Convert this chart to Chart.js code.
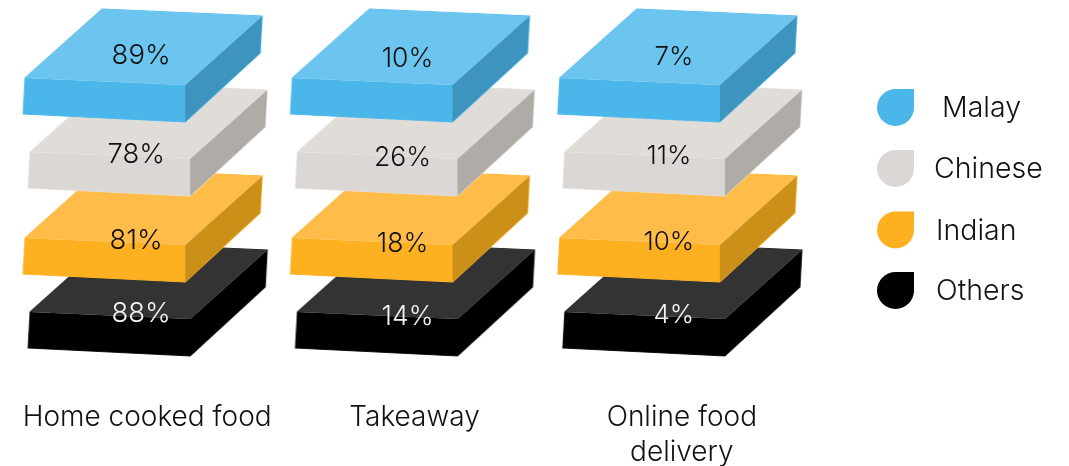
<!DOCTYPE html>
<html>
<head>
<meta charset="utf-8">
<title>Food sources by ethnic group</title>
<script src="https://cdn.jsdelivr.net/npm/chart.js@4"></script>
<style>
  html, body { margin: 0; padding: 0; background: #fff; }
  canvas { display: block; }
</style>
</head>
<body>
<canvas id="chart" width="1069" height="466"></canvas>
<script>
// Survey shares, one array per group, in category order
const categories = ['Home cooked food', 'Takeaway', ['Online food', 'delivery']];
const groups = ['Malay', 'Chinese', 'Indian', 'Others'];
const malay = [89, 10, 7];
const chinese = [78, 26, 11];
const indian = [81, 18, 10];
const others = [88, 14, 4];

const FONT = 'Inter, Lato, sans-serif';

// Look of each group's slab: face colours, edge colour, nudge of the slab and of its label
const looks = [
  { top: '#6cc5ef', front: '#4bb6e9', side: '#3c94bf', edge: '#58bcec', text: '#111111', ax: -121, ay: 13, lx: -5, ly: -9.5 },
  { top: '#e0ddd9', front: '#dbd7d4', side: '#afaba6', edge: '#e8e6e3', text: '#111111', ax: -116, ay: 9, lx: -10, ly: 11.5 },
  { top: '#ffbc49', front: '#feb120', side: '#cc9019', edge: '#ffb733', text: '#111111', ax: -121, ay: 17, lx: -10, ly: 19.5 },
  { top: '#333333', front: '#000000', side: '#000000', edge: '#222222', text: '#f4f4f4', ax: -116, ay: 13, lx: -5, ly: 14.5 }
];
// Label size and vertical shift per category column
const columnText = [
  { size: 27.5, dy: 0, dx: 0 },
  { size: 26.5, dy: 4, dx: -1 },
  { size: 26, dy: 2, dx: -2 }
];
// Legend rows: swatch centre y and label x
const legendRows = [
  { y: 107.5, textX: 942 },
  { y: 168.5, textX: 934 },
  { y: 230, textX: 936 },
  { y: 290.5, textX: 936 }
];

// Paints one isometric slab into an offscreen canvas used as the point style
function slabSprite(look) {
  const c = document.createElement('canvas');
  c.width = 300; c.height = 160;
  const g = c.getContext('2d');
  g.translate(150 + look.ax, 80 + look.ay);
  const poly = (pts, fill) => {
    g.beginPath();
    pts.forEach((p, i) => i ? g.lineTo(p[0], p[1]) : g.moveTo(p[0], p[1]));
    g.closePath();
    g.fillStyle = fill;
    g.fill();
  };
  const A = [0, 0], B = [77, -69], C = [237, -62], D = [160, 7];
  const Dd = [160, 44], Ad = [-2, 36], Cd = [235, -25];
  // soft outer edge around the whole silhouette
  g.beginPath();
  [A, B, C, Cd, Dd, Ad].forEach((p, i) => i ? g.lineTo(p[0], p[1]) : g.moveTo(p[0], p[1]));
  g.closePath();
  g.strokeStyle = look.edge;
  g.lineWidth = 1.2;
  g.stroke();
  poly([A, B, C, D], look.top);
  poly([A, D, Dd, Ad], look.front);
  poly([D, C, Cd, Dd], look.side);
  return c;
}

const seriesValues = [malay, chinese, indian, others];

const datasets = groups.map((name, s) => ({
  label: name,
  data: seriesValues[s].map((v, i) => ({ x: i, y: name, share: v })),
  showLine: false,
  clip: false,
  pointRadius: 10,
  pointHoverRadius: 10,
  pointStyle: slabSprite(looks[s])
}));

// Writes the share on each slab
const shareLabels = {
  id: 'shareLabels',
  afterDatasetsDraw(chart) {
    const ctx = chart.ctx;
    ctx.save();
    ctx.textAlign = 'center';
    ctx.textBaseline = 'middle';
    chart.data.datasets.forEach((ds, s) => {
      const meta = chart.getDatasetMeta(s);
      meta.data.forEach((pt, i) => {
        const col = columnText[i];
        ctx.font = `300 ${col.size}px ${FONT}`;
        ctx.fillStyle = looks[s].text;
        ctx.fillText(ds.data[i].share + '%', pt.x + looks[s].lx + col.dx, pt.y + looks[s].ly + col.dy);
      });
    });
    ctx.restore();
  }
};

// Drop-shaped legend to the right of the stacks
const dropLegend = {
  id: 'dropLegend',
  afterDraw(chart) {
    const ctx = chart.ctx;
    const cx = 895.5, r = 18.5;
    ctx.save();
    chart.data.datasets.forEach((ds, s) => {
      const row = legendRows[s];
      ctx.beginPath();
      ctx.moveTo(cx + r, row.y - r);
      ctx.lineTo(cx, row.y - r);
      ctx.arc(cx, row.y, r, -Math.PI / 2, 0, true);
      ctx.closePath();
      ctx.fillStyle = looks[s].front;
      ctx.fill();
      ctx.font = `300 28.5px ${FONT}`;
      ctx.fillStyle = '#111111';
      ctx.textAlign = 'left';
      ctx.textBaseline = 'middle';
      ctx.fillText(ds.label, row.textX, row.y + 1);
    });
    ctx.restore();
  }
};

new Chart(document.getElementById('chart'), {
  type: 'line',
  data: { labels: categories, datasets },
  plugins: [shareLabels, dropLegend],
  options: {
    responsive: false,
    animation: false,
    layout: { padding: { left: 12.5, right: 254.5, top: 26, bottom: 0 } },
    plugins: { legend: { display: false }, tooltip: { enabled: false } },
    scales: {
      x: {
        type: 'category',
        offset: true,
        grid: { display: false },
        border: { display: false },
        afterFit(scale) {
          // the long first label must not push the plot area inward
          scale.height = 128;
          scale.paddingLeft = 0;
          scale.paddingRight = 0;
        },
        ticks: {
          autoSkip: false,
          maxRotation: 0,
          minRotation: 0,
          padding: 54,
          labelOffset: 1,
          color: '#111111',
          font: { family: FONT, size: 28, weight: 300, lineHeight: 1.25 }
        }
      },
      y: {
        type: 'category',
        labels: groups,
        offset: true,
        display: false
      }
    }
  }
});
</script>
</body>
</html>
